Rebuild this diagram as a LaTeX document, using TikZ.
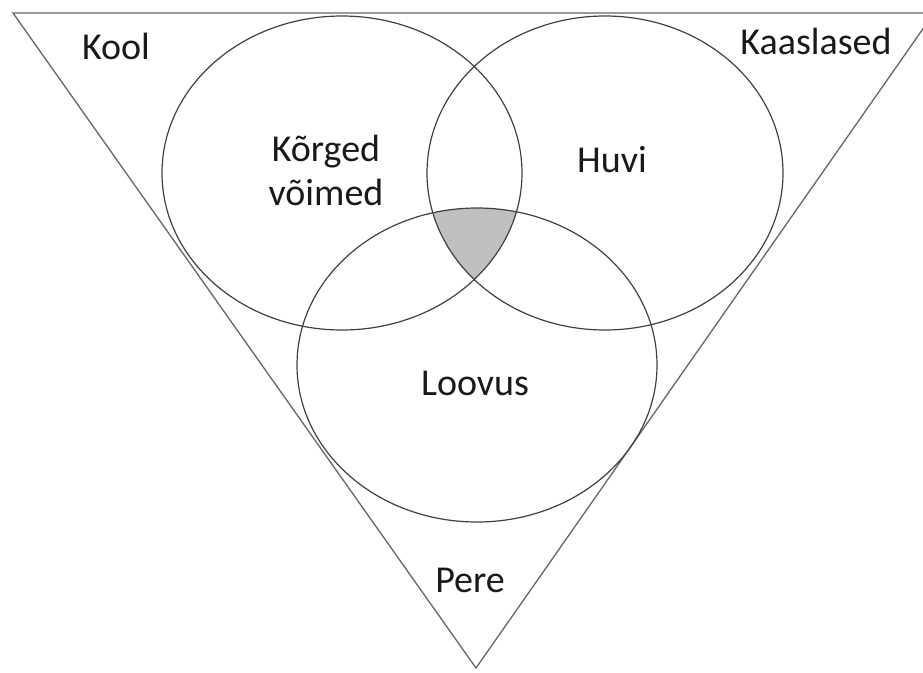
\documentclass[tikz,border=0pt]{standalone}
\usepackage{fontspec}
\setmainfont{Carlito}
\begin{document}
\begin{tikzpicture}[x=1pt,y=-1pt,
  frame/.style={draw=black!60,line width=1.3pt},
  ring/.style={draw=black!75,line width=1.2pt},
  lbl/.style={font=\fontsize{38}{44}\selectfont,text=black!90,align=center,inner sep=0pt}]
\useasboundingbox (0,0) rectangle (923,672);
\begin{scope}
  \clip (0,0) rectangle (923,672);
  \draw[frame] (13,13) -- (934,13) -- (476,668) -- cycle;
\end{scope}
% shaded common region
\begin{scope}
  \clip (342,173) ellipse [x radius=180pt, y radius=157pt];
  \clip (605,173) ellipse [x radius=178pt, y radius=157pt];
  \fill[black!25] (477,365) ellipse [x radius=180pt, y radius=157pt];
\end{scope}
\coordinate (cL) at (342,173);
\coordinate (cR) at (605,173);
\coordinate (cB) at (477,365);
\draw[ring] (cL) ellipse [x radius=180pt, y radius=157pt];
\draw[ring] (cR) ellipse [x radius=178pt, y radius=157pt];
\draw[ring] (cB) ellipse [x radius=180pt, y radius=157pt];
\node[lbl] (kool) at (116,46) {Kool};
\node[lbl] (kaas) at (816,41) {Kaaslased};
\node[lbl] (korg) at (326,170) {Kõrged\\võimed};
\node[lbl] (huvi) at (612,160) {Huvi};
\node[lbl] (loov) at (475,383) {Loovus};
\node[lbl] (pere) at (470,580) {Pere};
\end{tikzpicture}
\end{document}
